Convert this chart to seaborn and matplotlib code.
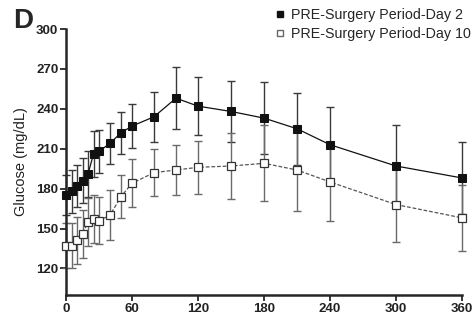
import numpy as np
import pandas as pd
import matplotlib
matplotlib.use("Agg")
import matplotlib.pyplot as plt
import seaborn as sns
from matplotlib.lines import Line2D

# ---- data ----
time_min = [0, 5, 10, 15, 20, 25, 30, 40, 50, 60, 80, 100, 120, 150, 180, 210, 240, 300, 360]
day2_mean = [175, 178, 182, 186, 191, 206, 208, 214, 222, 227, 234, 248, 242, 238, 233, 225, 213, 197, 188]
day2_sd = [15, 16, 16, 17, 17, 17, 16, 15.5, 15.7, 16.7, 19, 23.5, 22, 23, 27, 27, 28, 31, 27]
day10_mean = [137, 137, 141, 146, 155, 157, 156, 160, 174, 184, 192, 194, 196, 197, 199, 194, 185, 168, 158]
day10_sd = [17, 17, 18, 18, 18, 18, 18, 19, 16, 18, 17.5, 19, 20, 25, 28.6, 31, 29, 28, 25]
series_names = ["PRE-Surgery Period-Day 2", "PRE-Surgery Period-Day 10"]
x_ticks = [0, 60, 120, 180, 240, 300, 360]
y_ticks = [120, 150, 180, 210, 240, 270, 300]

df = pd.DataFrame({
    "time": time_min * 2,
    "glucose": day2_mean + day10_mean,
    "sd": day2_sd + day10_sd,
    "series": [series_names[0]] * len(time_min) + [series_names[1]] * len(time_min),
})

sns.set_style("ticks")
plt.rcParams["font.family"] = ["Liberation Sans", "DejaVu Sans"]

fig = plt.figure(figsize=(4.76, 3.20), dpi=100)
ax = fig.add_axes([66 / 476, 1 - 295 / 320, (462 - 66) / 476, (295 - 29) / 320])

# error bars
ecolors = {series_names[0]: "#3a3a3a", series_names[1]: "#6a6a6a"}
for name in series_names:
    sub = df[df.series == name]
    ax.errorbar(sub["time"], sub["glucose"], yerr=sub["sd"], fmt="none",
                ecolor=ecolors[name], elinewidth=1.0, capsize=3.2,
                capthick=1.0, zorder=2, clip_on=False)

sns.lineplot(data=df, x="time", y="glucose", hue="series", style="series",
             palette={series_names[0]: "#111111", series_names[1]: "#555555"},
             dashes={series_names[0]: "", series_names[1]: (3, 1.5)},
             markers={series_names[0]: "s", series_names[1]: "s"},
             linewidth=0.9, markersize=5.8, ax=ax, legend=False, zorder=3,
             errorbar=None)

lines = ax.get_lines()
for ln in lines:
    ln.set_clip_on(False)
line_d2, line_d10 = lines[-2], lines[-1]
line_d2.set_markerfacecolor("#111111")
line_d2.set_markeredgecolor("#111111")
line_d10.set_markerfacecolor("white")
line_d10.set_markeredgecolor("#333333")
line_d10.set_markeredgewidth(0.9)

ax.set_xlim(0, 360)
ax.set_ylim(100, 300)
ax.set_xticks(x_ticks)
ax.set_yticks(y_ticks)
ax.set_xlabel("")
ax.set_ylabel("Glucose (mg/dL)", fontsize=10.5, labelpad=6, color="#222222")
for lbl in ax.get_xticklabels() + ax.get_yticklabels():
    lbl.set_fontweight("bold")
    lbl.set_fontsize(9.5)
    lbl.set_color("#222222")
ax.tick_params(axis="both", direction="out", length=4, width=1.3, pad=1.5)
for s in ["top", "right"]:
    ax.spines[s].set_visible(False)
for s in ["left", "bottom"]:
    ax.spines[s].set_linewidth(1.8)

# legend
handles = [
    Line2D([], [], linestyle="none", marker="s", markersize=5,
           markerfacecolor="#111111", markeredgecolor="#111111"),
    Line2D([], [], linestyle="none", marker="s", markersize=5,
           markerfacecolor="white", markeredgecolor="#666666"),
]
fig.legend(handles, series_names, loc="upper left", bbox_to_anchor=(272 / 476, 1 - 7 / 320),
           frameon=False, fontsize=10.3, handletextpad=0.3, handlelength=0.9,
           labelspacing=0.35, borderpad=0.1, borderaxespad=0.0)

fig.text(13 / 476, 1 - 8 / 320, "D", fontsize=20, fontweight="bold", va="top", ha="left")

fig.savefig("out.png", dpi=100)
